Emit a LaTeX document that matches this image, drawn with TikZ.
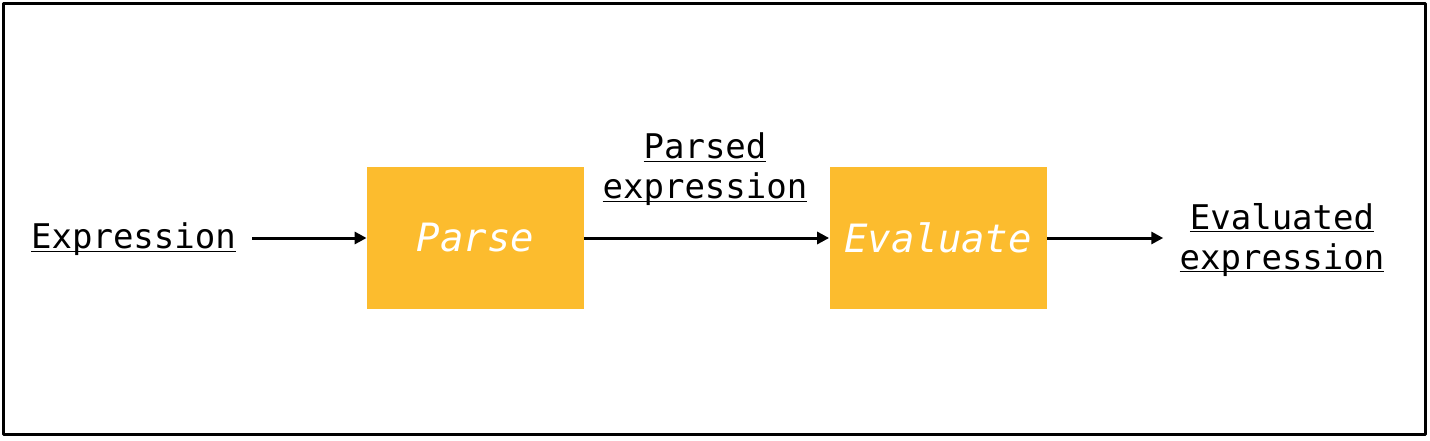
\documentclass[tikz,border=0pt]{standalone}
\usepackage{fontspec}
\setmonofont{DejaVu Sans Mono}
\usepackage{pgf,tikz}
\usetikzlibrary{arrows.meta}
\usetikzlibrary{positioning}

\definecolor{stepyellow}{HTML}{FCBC2E}
\newcommand{\ulabel}[1]{\underline{\raisebox{0pt}[\height][0pt]{#1}}}

\begin{document}
\begin{tikzpicture}[line cap=round,line join=round,>={Triangle[length=6pt,width=6pt]},x=0.5pt,y=0.5pt,
  stagebox/.style={fill=stepyellow,minimum width=108.5pt,minimum height=71pt,inner sep=0pt,
    text=white,font=\fontsize{19.5}{22}\selectfont\ttfamily\itshape},
  datalabel/.style={align=center,inner xsep=8pt,font=\fontsize{17}{20}\selectfont\ttfamily},
  flow/.style={->,line width=1.5pt,line cap=butt,color=black}]
\useasboundingbox (0,0) rectangle (1430,440);
\draw[line width=1.5pt] (3.5,5.5) rectangle (1425.5,436.5);
\node[datalabel] (expr) at (133.5,202) {\ulabel{Expression}};
\node[stagebox] (parse) at (475.5,202) {Parse};
\node[stagebox] (eval) at (938,202) {Evaluate};
\node[datalabel] (parsed) at (705,272) {\ulabel{Parsed}\\\ulabel{expression}};
\node[datalabel] (result) at (1282,202) {\ulabel{Evaluated}\\\ulabel{expression}};
\draw[flow] (expr) -- (parse);
\draw[flow] (parse) -- (eval);
\draw[flow] (eval) -- (result);
\end{tikzpicture}
\end{document}
